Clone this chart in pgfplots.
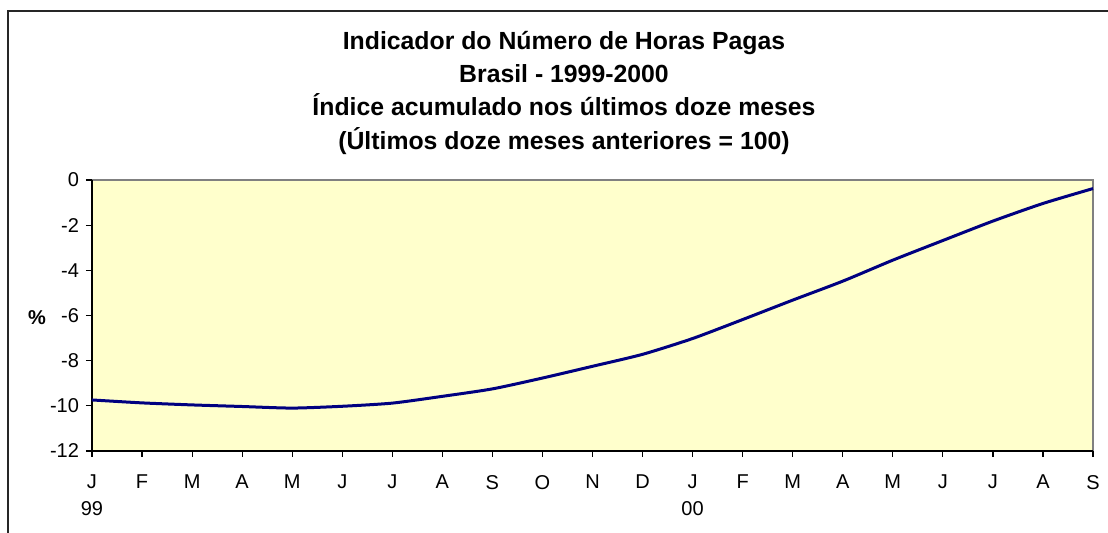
\documentclass[border=0pt]{standalone}
\usepackage{fontspec}
\setmainfont{Liberation Sans}
\usepackage{pgfplots}
\pgfplotsset{compat=1.18}
\definecolor{plotbg}{HTML}{FFFFCC}
\definecolor{navyline}{HTML}{000080}
\begin{document}
\begin{tikzpicture}[x=0.5pt,y=0.5pt]
\useasboundingbox (0,0) rectangle (1108,533);
% outer chart frame (cut off at right and bottom)
\draw[line width=1pt, black!85] (8,0) -- (8,522) -- (1108,522);
\node[align=center, inner sep=0pt, anchor=north,
      font=\fontsize{12.4}{16.6}\selectfont\bfseries] at (564,502)
  {Indicador do Número de Horas Pagas\\
   Brasil - 1999-2000\\
   Índice acumulado nos últimos doze meses\\
   (Últimos doze meses anteriores = 100)};
\begin{axis}[
    at={(46pt,41pt)}, anchor=south west,
    scale only axis,
    width=500.5pt, height=135.5pt,
    xmin=0, xmax=20, ymin=-12, ymax=0,
    xtick={0,...,20},
    xticklabels={{J\\99},F,M,A,M,J,J,A,S,O,N,D,{J\\00},F,M,A,M,J,J,A,S},
    ytick={-12,-10,...,0},
    tick align=outside,
    major tick length=3pt,
    tick style={black, line width=0.6pt},
    axis x line*=bottom, axis y line*=left,
    axis line style={black, line width=1pt, -},
    axis background/.style={fill=plotbg, draw=black!50, line width=1.2pt},
    ticklabel style={font=\fontsize{10}{13.5}\selectfont},
    xticklabel style={align=center, yshift=-5.5pt},
    yticklabel style={xshift=0pt},
    /pgf/number format/assume math mode=true,
    ylabel={\textbf{\%}},
    ylabel style={rotate=-90, at={(axis description cs:0,0.5)}, anchor=center,
                  xshift=-27.5pt, yshift=-1pt, font=\fontsize{10}{12}\selectfont},
    clip=false,
]
\addplot[navyline, line width=1.5pt, smooth, tension=0.4] coordinates {
    (0,-9.74) (1,-9.87) (2,-9.96) (3,-10.03) (4,-10.10) (5,-10.02)
    (6,-9.88) (7,-9.58) (8,-9.25) (9,-8.77) (10,-8.25) (11,-7.72)
    (12,-7.02) (13,-6.18) (14,-5.32) (15,-4.48) (16,-3.55) (17,-2.68)
    (18,-1.82) (19,-1.04) (20,-0.38)
};
\end{axis}
\end{tikzpicture}
\end{document}
